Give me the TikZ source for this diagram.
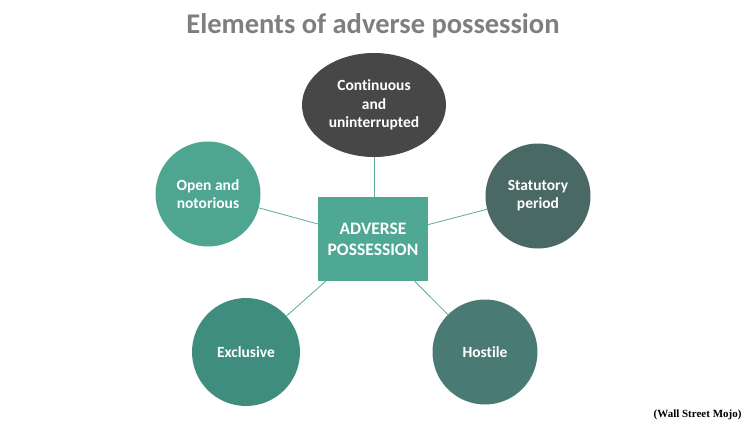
\documentclass[tikz,border=0pt]{standalone}
\usepackage{fontspec}
\setmainfont{Carlito}[Ligatures=NoCommon]
\newfontfamily\timesfont{Liberation Serif}
\usetikzlibrary{shapes.geometric}
\definecolor{titlegray}{HTML}{7F7F7F}
\definecolor{linecol}{HTML}{5FA89A}
\definecolor{boxcol}{HTML}{4FA893}
\definecolor{contcol}{HTML}{474747}
\definecolor{opencol}{HTML}{4FA690}
\definecolor{statcol}{HTML}{4A6864}
\definecolor{exclcol}{HTML}{3F8D7F}
\definecolor{hostcol}{HTML}{4A7A74}
\begin{document}
\begin{tikzpicture}[x=1pt,y=-1pt,
  bubble/.style={circle,minimum size=105pt,inner sep=0pt,align=center,text=white,font=\fontsize{15.5}{18}\selectfont\bfseries},
  conn/.style={draw=linecol,line width=0.8pt}]
\useasboundingbox[fill=white] (0,0) rectangle (748,428);
\node[font=\fontsize{28.5}{32}\selectfont\bfseries,text=titlegray] (title) at (373,26) {Elements of adverse possession};
\node[rectangle,minimum width=110pt,minimum height=84pt,fill=boxcol,draw=none,text=white,align=center,font=\fontsize{17.5}{21}\selectfont\bfseries] (center) at (373,239) {ADVERSE\\POSSESSION};
\node[ellipse,minimum width=144pt,minimum height=104pt,inner sep=0pt,fill=contcol,align=center,text=white,font=\fontsize{15.5}{18.5}\selectfont\bfseries] (cont) at (374,105) {Continuous\\and\\uninterrupted};
\node[bubble,fill=opencol] (open) at (208,194) {Open and\\notorious};
\node[bubble,fill=statcol] (stat) at (538,196) {Statutory\\period};
\node[bubble,minimum size=108pt,fill=exclcol] (excl) at (246,352) {Exclusive};
\node[bubble,fill=hostcol] (host) at (485,352) {Hostile};
\draw[conn] (cont.south) -- (cont.south |- center.north);
\draw[conn] (open) -- (center);
\draw[conn] (stat) -- (center);
\draw[conn] (excl) -- (center);
\draw[conn] (host) -- (center);
\node[font=\timesfont\fontsize{11}{13}\selectfont\bfseries,anchor=east] (src) at (745,415) {(Wall Street Mojo)};
\end{tikzpicture}
\end{document}
